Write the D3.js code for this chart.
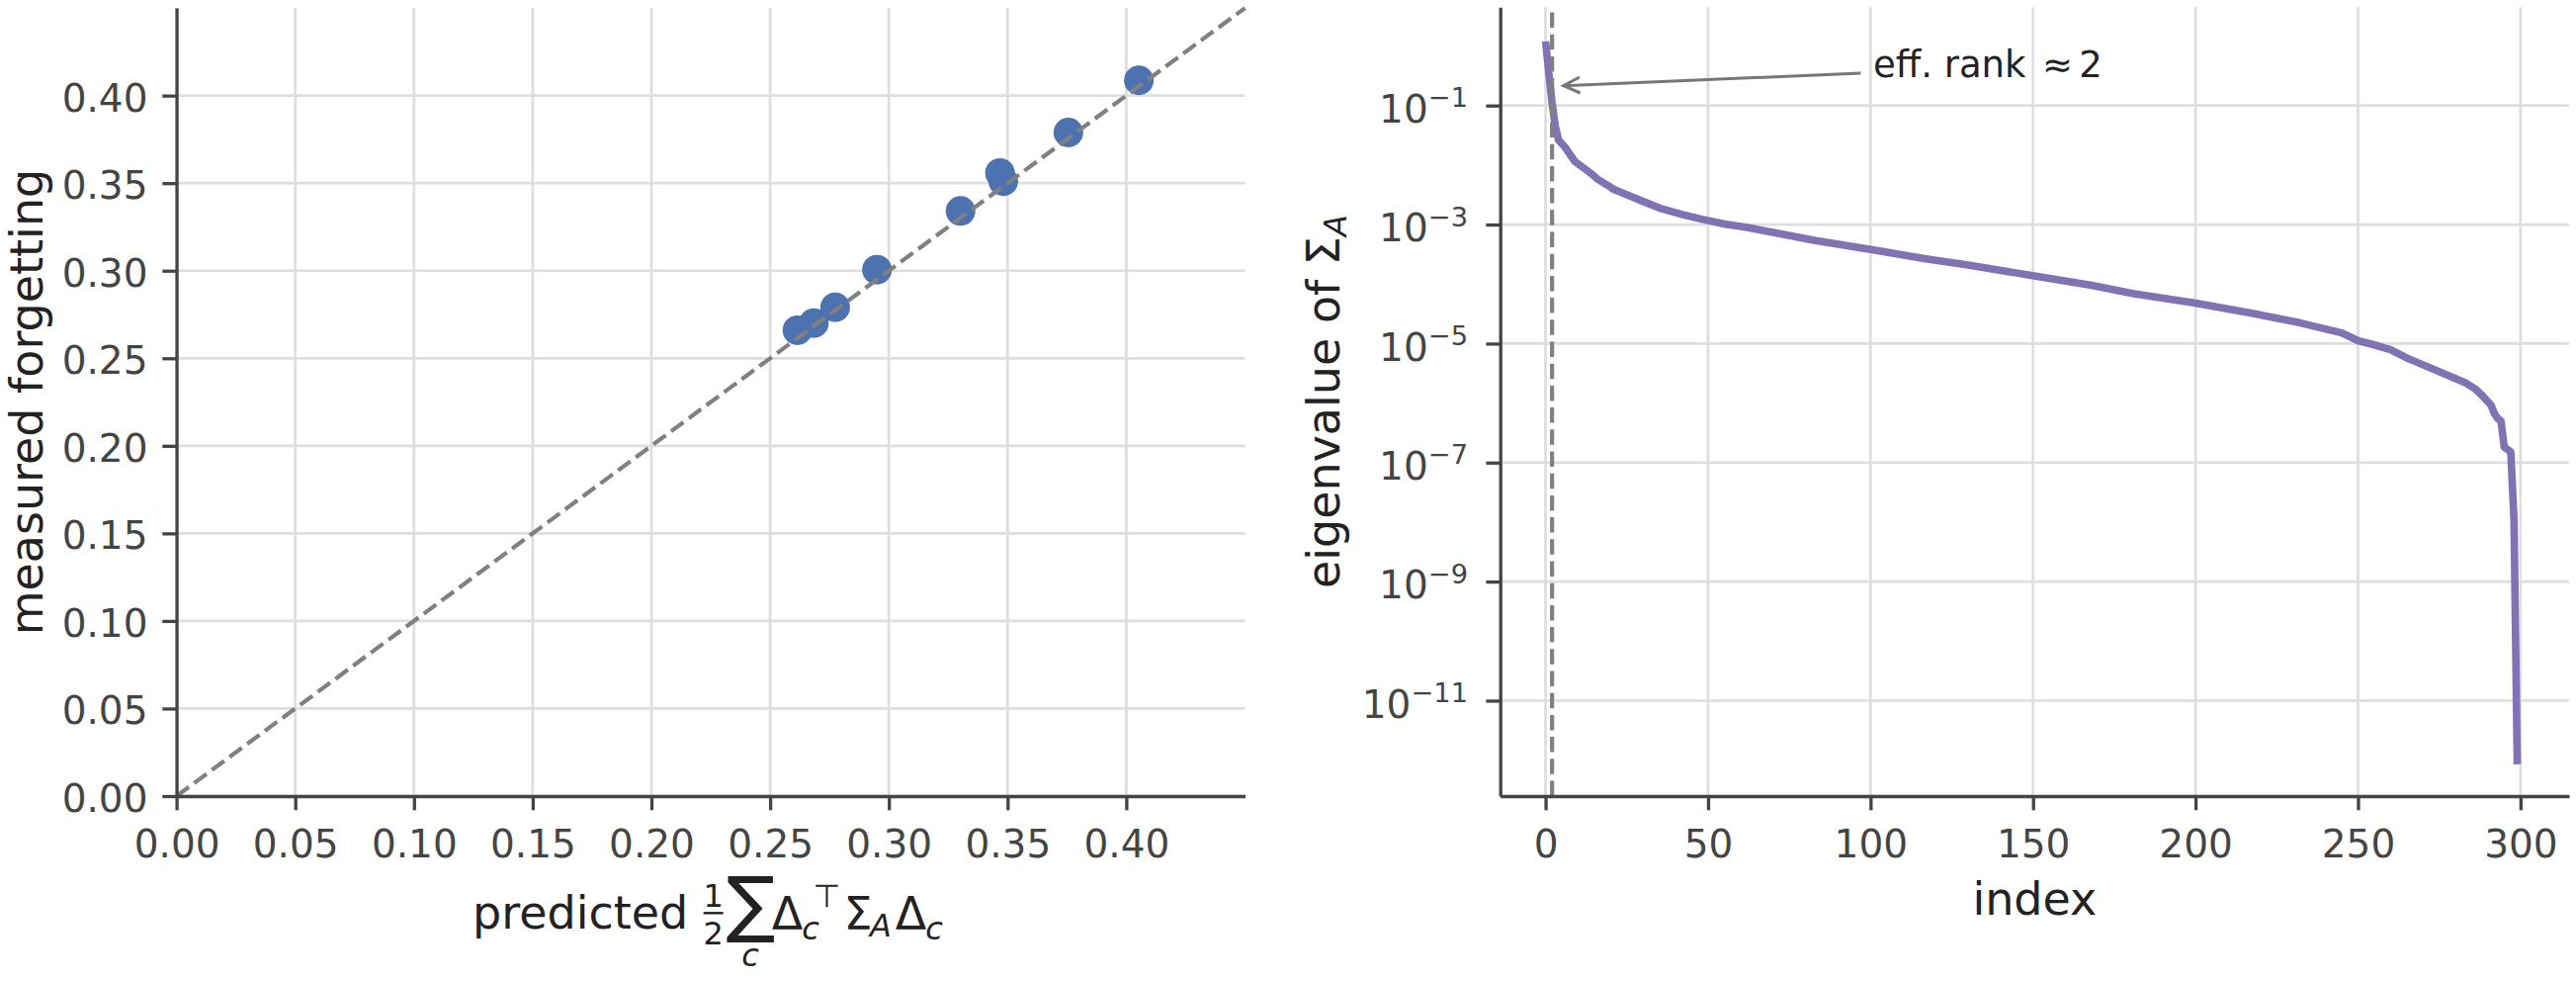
<!DOCTYPE html>
<html><head><meta charset="utf-8">
<script src="https://cdn.jsdelivr.net/npm/d3@7"></script>
<style>
body{margin:0;background:#fff}
svg{display:block}
text{font-family:"DejaVu Sans",sans-serif}
</style>
</head><body>
<svg id="chart" width="2606" height="992"></svg>
<script>
// ---------------- data ----------------
// left panel: predicted vs measured forgetting
const predicted = [0.2615, 0.2684, 0.2774, 0.2950, 0.3302, 0.3468, 0.3482, 0.3756, 0.4053];
const measured  = [0.2660, 0.2701, 0.2791, 0.3006, 0.3341, 0.3558, 0.3511, 0.3789, 0.4087];
const leftTicks = [0.00, 0.05, 0.10, 0.15, 0.20, 0.25, 0.30, 0.35, 0.40];
const leftLimit = [0, 0.45];

// right panel: sorted eigenvalue spectrum (read at selected indices)
const eigIndex = [0, 1, 2, 3, 4, 6, 9, 12, 14, 16, 19, 21, 26, 30, 35, 42, 48, 55, 62, 70, 83, 92, 100,
  117, 130, 149, 168, 181, 200, 219, 232, 245, 250, 255, 260, 265, 270, 276, 283, 286, 288, 290,
  291, 292, 293, 294, 295, 296, 297, 298, 299];
const eigValue = [1.2, 0.355, 0.112, 0.0447, 0.0263, 0.0200, 0.0115, 0.0087, 0.0072, 0.0058, 0.0046,
  0.0039, 0.0030, 0.00245, 0.0019, 0.00148, 0.00123, 0.00102, 8.9e-4, 7.4e-4, 5.4e-4, 4.5e-4, 3.8e-4,
  2.66e-4, 2.09e-4, 1.41e-4, 9.5e-5, 6.9e-5, 4.8e-5, 3.1e-5, 2.24e-5, 1.51e-5, 1.12e-5, 9.5e-6,
  7.9e-6, 5.75e-6, 4.4e-6, 3.2e-6, 2.2e-6, 1.74e-6, 1.38e-6, 1.05e-6, 9.1e-7, 6.6e-7, 5.5e-7,
  5.0e-7, 1.82e-7, 1.66e-7, 1.51e-7, 1.12e-8, 8.5e-13];
const rightXTicks = [0, 50, 100, 150, 200, 250, 300];
const rightYExp = [-1, -3, -5, -7, -9, -11];
const effRank = 2;
const annotation = {x: 100.8, y: 0.296, tipX: 5.5, tipY: 0.215};

// ---------------- style ----------------
const TICK_FONT = 39, LABEL_FONT = 46, SMALL_FONT = 32, ANN_FONT = 37;
const gridColor = "#dedede", spineColor = "#444", tickText = "#444", labelColor = "#222";
const spineW = 3.3, tickLen = 14.3, gridW = 2.7;
const dashColor = "#808080", dashW = 4.2, dash = "15.5,6.7";

const svg = d3.select("#chart");

// ---------------- left panel ----------------
const L = {x0: 178.6, x1: 1259.5, y0: 805, y1: 8.1};
const xL = d3.scaleLinear().domain(leftLimit).range([L.x0, L.x1]);
const yL = d3.scaleLinear().domain(leftLimit).range([L.y0, L.y1]);
const gl = svg.append("g");

// grid
gl.append("g").selectAll("line").data(leftTicks).join("line")
  .attr("x1", d => xL(d)).attr("x2", d => xL(d)).attr("y1", L.y0).attr("y2", L.y1)
  .attr("stroke", gridColor).attr("stroke-width", gridW);
gl.append("g").selectAll("line").data(leftTicks).join("line")
  .attr("y1", d => yL(d)).attr("y2", d => yL(d)).attr("x1", L.x0).attr("x2", L.x1)
  .attr("stroke", gridColor).attr("stroke-width", gridW);

// points
gl.append("g").selectAll("circle").data(predicted).join("circle")
  .attr("cx", d => xL(d)).attr("cy", (d, i) => yL(measured[i])).attr("r", 15)
  .attr("fill", "#4c72b0");

// diagonal
gl.append("line")
  .attr("x1", xL(leftLimit[0])).attr("y1", yL(leftLimit[0]))
  .attr("x2", xL(leftLimit[1])).attr("y2", yL(leftLimit[1]))
  .attr("stroke", dashColor).attr("stroke-width", dashW).attr("stroke-dasharray", dash);

function styleAxis(g) {
  g.select(".domain").attr("stroke", spineColor).attr("stroke-width", spineW);
  g.selectAll(".tick line").attr("stroke", spineColor).attr("stroke-width", spineW);
  g.selectAll(".tick text").attr("fill", tickText).attr("font-size", TICK_FONT)
    .attr("font-family", "DejaVu Sans");
}

const axLx = gl.append("g").attr("transform", `translate(0,${L.y0})`)
  .call(d3.axisBottom(xL).tickValues(leftTicks).tickFormat(d3.format(".2f"))
    .tickSize(tickLen).tickSizeOuter(0));
styleAxis(axLx);
axLx.selectAll(".tick text").attr("y", 61.7).attr("dy", null);

const axLy = gl.append("g").attr("transform", `translate(${L.x0},0)`)
  .call(d3.axisLeft(yL).tickValues(leftTicks).tickFormat(d3.format(".2f"))
    .tickSize(tickLen).tickSizeOuter(0));
styleAxis(axLy);
axLy.selectAll(".tick text").attr("x", -29.1).attr("dy", null).attr("y", 15.5);

// y label
gl.append("text").attr("transform", `translate(43,${(L.y0 + L.y1) / 2}) rotate(-90)`)
  .attr("text-anchor", "middle").attr("font-size", LABEL_FONT).attr("fill", labelColor)
  .text("measured forgetting");

// x label (math pieces laid out around the axis centre)
const cx = (L.x0 + L.x1) / 2;
const xlab = gl.append("g").attr("fill", labelColor);
xlab.append("text").attr("x", cx - 241).attr("y", 939).attr("font-size", LABEL_FONT).text("predicted");
const pieces = [
  {t: "1", dx: 2.6, y: 916.7, s: SMALL_FONT},
  {t: "2", dx: 2.6, y: 955, s: SMALL_FONT},
  {t: "\u2211", dx: 40.5, y: 938.5, s: 74},
  {t: "c", dx: 40, y: 977, s: SMALL_FONT, it: true},
  {t: "\u0394", dx: 77.5, y: 940, s: LABEL_FONT},
  {t: "c", dx: 101, y: 950, s: SMALL_FONT, it: true},
  {t: "\u22A4", dx: 117.5, y: 917, s: SMALL_FONT},
  {t: "\u03A3", dx: 149, y: 940, s: LABEL_FONT},
  {t: "A", dx: 172, y: 946.7, s: SMALL_FONT, it: true},
  {t: "\u0394", dx: 202.5, y: 940, s: LABEL_FONT},
  {t: "c", dx: 226, y: 950, s: SMALL_FONT, it: true}
];
xlab.selectAll("text.p").data(pieces).join("text").attr("class", "p")
  .attr("x", d => cx + d.dx).attr("y", d => d.y).attr("font-size", d => d.s)
  .attr("font-style", d => d.it ? "italic" : null).attr("text-anchor", "middle").text(d => d.t);
xlab.append("line").attr("x1", cx - 7.4).attr("x2", cx + 12.6).attr("y1", 923.3).attr("y2", 923.3)
  .attr("stroke", labelColor).attr("stroke-width", 2.4);

// ---------------- right panel ----------------
const R = {x0: 1517.7, x1: 2599, y0: 805, y1: 7.3};
const xR = d3.scaleLinear().domain([-13.95, 314.95]).range([R.x0, R.x1]);
const yR = d3.scaleLog().domain([Math.pow(10, -12.604), Math.pow(10, 0.652)]).range([R.y0, R.y1]);
const gr = svg.append("g");

gr.append("g").selectAll("line").data(rightXTicks).join("line")
  .attr("x1", d => xR(d)).attr("x2", d => xR(d)).attr("y1", R.y0).attr("y2", R.y1)
  .attr("stroke", gridColor).attr("stroke-width", gridW);
gr.append("g").selectAll("line").data(rightYExp).join("line")
  .attr("y1", d => yR(Math.pow(10, d))).attr("y2", d => yR(Math.pow(10, d)))
  .attr("x1", R.x0).attr("x2", R.x1)
  .attr("stroke", gridColor).attr("stroke-width", gridW);

const line = d3.line().x((d, i) => xR(eigIndex[i])).y(d => yR(d));
gr.append("path").datum(eigValue).attr("d", line).attr("fill", "none")
  .attr("stroke", "#8172b3").attr("stroke-width", 7.6)
  .attr("stroke-linejoin", "round").attr("stroke-linecap", "butt");

gr.append("line").attr("x1", xR(effRank)).attr("x2", xR(effRank)).attr("y1", R.y0).attr("y2", R.y1)
  .attr("stroke", dashColor).attr("stroke-width", dashW).attr("stroke-dasharray", dash);

const axRx = gr.append("g").attr("transform", `translate(0,${R.y0})`)
  .call(d3.axisBottom(xR).tickValues(rightXTicks).tickFormat(d3.format("d"))
    .tickSize(tickLen).tickSizeOuter(0));
styleAxis(axRx);
axRx.selectAll(".tick text").attr("y", 61.7).attr("dy", null);

const axRy = gr.append("g").attr("transform", `translate(${R.x0},0)`)
  .call(d3.axisLeft(yR).tickValues(rightYExp.map(e => Math.pow(10, e))).tickFormat(() => "")
    .tickSize(tickLen).tickSizeOuter(0));
styleAxis(axRy);
axRy.selectAll(".tick text").each(function(d) {
  const t = d3.select(this).attr("x", -32.7).attr("dy", null).attr("y", 16.7).text(null);
  const e = Math.round(Math.log10(d));
  t.append("tspan").text("10");
  t.append("tspan").attr("font-size", TICK_FONT * 0.7).attr("dy", -15.7).text("\u2212" + Math.abs(e));
});

// y label
const yl = gr.append("text").attr("transform", `translate(1355,${(R.y0 + R.y1) / 2}) rotate(-90)`)
  .attr("text-anchor", "middle").attr("font-size", LABEL_FONT).attr("fill", labelColor);
yl.append("tspan").text("eigenvalue of \u03A3");
yl.append("tspan").attr("font-size", SMALL_FONT).attr("font-style", "italic").attr("dy", 6.7).text("A");

// x label
gr.append("text").attr("x", (R.x0 + R.x1) / 2).attr("y", 925).attr("text-anchor", "middle")
  .attr("font-size", LABEL_FONT).attr("fill", labelColor).text("index");

// annotation
const ax = xR(annotation.x), ay = yR(annotation.y);
const ann = gr.append("g").attr("fill", labelColor).attr("font-size", ANN_FONT);
ann.append("text").attr("x", ax).attr("y", ay).text("eff. rank");
ann.append("text").attr("x", ax + 186.5).attr("y", ay).attr("text-anchor", "middle").text("\u2248");
ann.append("text").attr("x", ax + 220).attr("y", ay).attr("text-anchor", "middle").text(String(effRank));
const tail = [ax - 12.5, ay - 4.3], tip = [xR(annotation.tipX), yR(annotation.tipY)];
const ang = Math.atan2(tip[1] - tail[1], tip[0] - tail[0]);
const hl = 16.7, hw = 8;
const bx = tip[0] - hl * Math.cos(ang), by = tip[1] - hl * Math.sin(ang);
const px = -Math.sin(ang) * hw, py = Math.cos(ang) * hw;
gr.append("line").attr("x1", tail[0]).attr("y1", tail[1]).attr("x2", tip[0]).attr("y2", tip[1])
  .attr("stroke", "#777").attr("stroke-width", 3);
gr.append("path")
  .attr("d", `M${bx + px},${by + py}L${tip[0]},${tip[1]}L${bx - px},${by - py}`)
  .attr("fill", "none").attr("stroke", "#777").attr("stroke-width", 3).attr("stroke-linejoin", "miter");
</script>
</body></html>
